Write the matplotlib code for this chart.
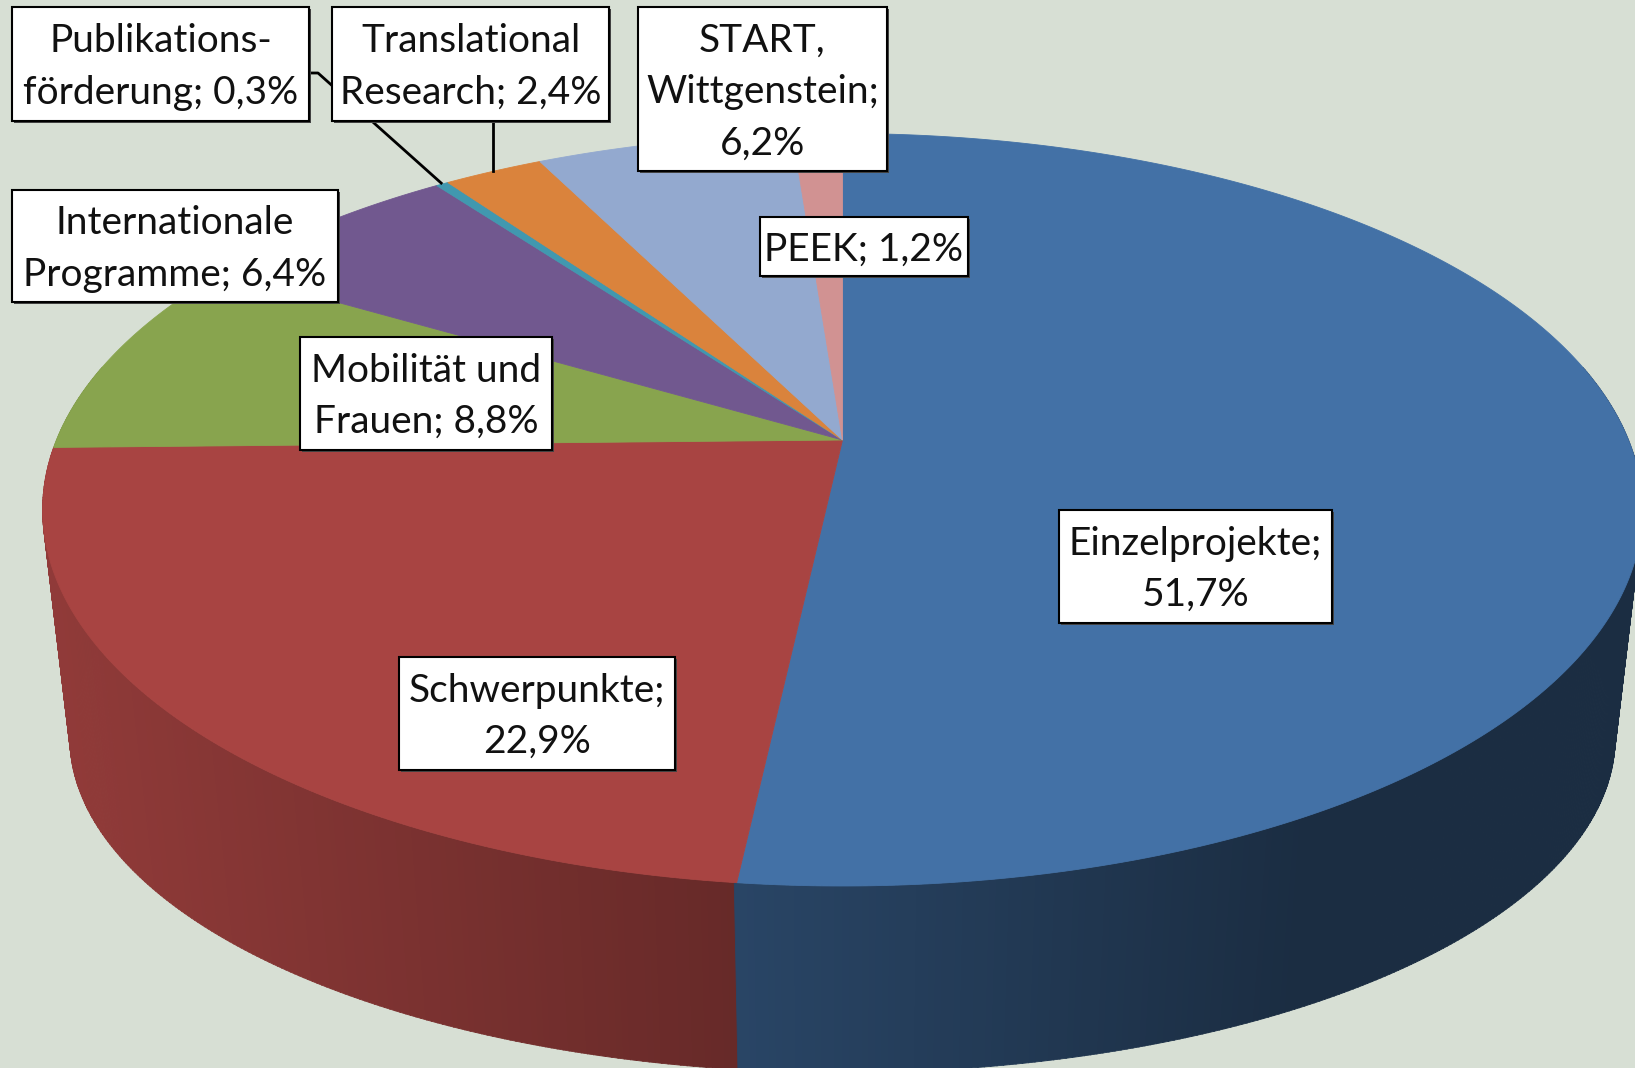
import matplotlib
matplotlib.use("Agg")
import matplotlib.pyplot as plt
import numpy as np
from matplotlib.patches import Polygon, Rectangle

# Daten: Anteile der Förderprogramme (in %)
programme = ["Einzelprojekte", "Schwerpunkte", "Mobilität und Frauen",
             "Internationale Programme", "Publikationsförderung",
             "Translational Research", "START, Wittgenstein", "PEEK"]
anteile = [51.7, 22.9, 8.8, 6.4, 0.3, 2.4, 6.2, 1.2]
# Beschriftung mit Zeilenumbrüchen wie im Original
beschriftung = ["Einzelprojekte;\n{}", "Schwerpunkte;\n{}", "Mobilität und\nFrauen; {}",
                "Internationale\nProgramme; {}", "Publikations-\nförderung; {}",
                "Translational\nResearch; {}", "START,\nWittgenstein;\n{}", "PEEK; {}"]
farben = ["#4371a6", "#a84442", "#88a44e", "#71588f", "#4198af",
          "#da833c", "#93a9cf", "#d19292"]

# Position der Beschriftungskästen (x0, y0, x1, y1) in Pixeln
kaesten = [(1059, 510, 1332, 623), (399, 657, 675, 770), (300, 337, 552, 450),
           (12, 190, 338, 302), (12, 7, 309, 121), (332, 7, 609, 121),
           (638, 7, 887, 171), (760, 217, 968, 276)]

hintergrund = "#d7dfd4"

# einfache Perspektive für die Tortenoberseite
cx, cy = 842.5, 440.0
A, B, k = 786.0, 363.3, 0.1854
yc_top = 509.7


def proj(t):
    x3, y3 = np.cos(t), np.sin(t)
    w = 1 + k * y3
    return cx + A * x3 / w, cy - B * y3 / w


def unten(X, Y):
    return cx + (X - cx) * 0.966, yc_top + (Y - yc_top) * 0.89 + 228


fig = plt.figure(figsize=(16.35, 10.68), dpi=100)
fig.patch.set_facecolor(hintergrund)
ax = fig.add_axes([0, 0, 1, 1])
ax.set_facecolor(hintergrund)
ax.set_xlim(0, 1635)
ax.set_ylim(1068, 0)
ax.axis("off")

werte = np.array(anteile)
grenzen = 90 - 360 * np.concatenate([[0], np.cumsum(werte / werte.sum())])

# Seitenwand (nur vorne sichtbar), mit Verlauf
def helligkeit(x):
    return np.interp(x, [50, 740, 1300, 1640], [0.86, 0.61, 0.40, 0.40])

schritt = 0.4
streifen = []
t = 12.0
while t > -192.0:
    t0, t1 = t, t - schritt
    tm = (t0 + t1) / 2
    tm_n = tm if tm > grenzen[-1] else tm + 360
    idx = np.searchsorted(-grenzen, -tm_n) - 1
    idx = int(np.clip(idx, 0, len(werte) - 1))
    ts = np.radians(np.linspace(t0, t1 - 0.05, 3))
    X, Y = proj(ts)
    bx, by = unten(X, Y)
    pts = np.column_stack([np.concatenate([X, bx[::-1]]), np.concatenate([Y, by[::-1]])])
    streifen.append((np.sin(np.radians(tm)), pts, idx, X.mean()))
    t = t1

for tiefe, pts, idx, xm in sorted(streifen, key=lambda s: -s[0]):
    c = np.array(matplotlib.colors.to_rgb(farben[idx])) * helligkeit(xm)
    ax.add_patch(Polygon(pts, closed=True, facecolor=c, edgecolor=c, lw=0.6, zorder=1))

# Oberseite
anker = []
for i in range(len(werte)):
    a0, a1 = grenzen[i], grenzen[i + 1]
    n = max(4, int(abs(a0 - a1) * 4))
    ts = np.radians(np.linspace(a0, a1, n))
    X, Y = proj(ts)
    pts = np.column_stack([np.concatenate([[cx], X]), np.concatenate([[cy], Y])])
    ax.add_patch(Polygon(pts, closed=True, facecolor=farben[i], edgecolor=farben[i],
                         lw=0.6, zorder=3))
    anker.append(proj(np.radians((a0 + a1) / 2)))

# Führungslinien
ax_p, ay_p = anker[4]
x1p = kaesten[4][2]
ax.plot([x1p, x1p + 9, ax_p], [73, 73, ay_p], color="black", lw=2.0, zorder=4,
        solid_capstyle="butt")
ax_t, ay_t = anker[5]
ax.plot([ax_t, ax_t], [kaesten[5][3], ay_t], color="black", lw=2.0, zorder=4)

# Beschriftungen
fs = 28
for i, (x0, y0, x1, y1) in enumerate(kaesten):
    ax.add_patch(Rectangle((x0 + 2, y0 + 2), x1 - x0, y1 - y0, facecolor="#444444",
                           edgecolor="none", zorder=5))
    ax.add_patch(Rectangle((x0, y0), x1 - x0, y1 - y0, facecolor="white",
                           edgecolor="black", lw=1.5, zorder=6))
    wert = ("%.1f%%" % anteile[i]).replace(".", ",")
    ax.text((x0 + x1) / 2, (y0 + y1) / 2 + 3, beschriftung[i].format(wert),
            ha="center", va="center", fontsize=fs, family="Lato",
            linespacing=1.53, color="#111111", zorder=7)

plt.savefig("out.png", dpi=100, facecolor=hintergrund)
